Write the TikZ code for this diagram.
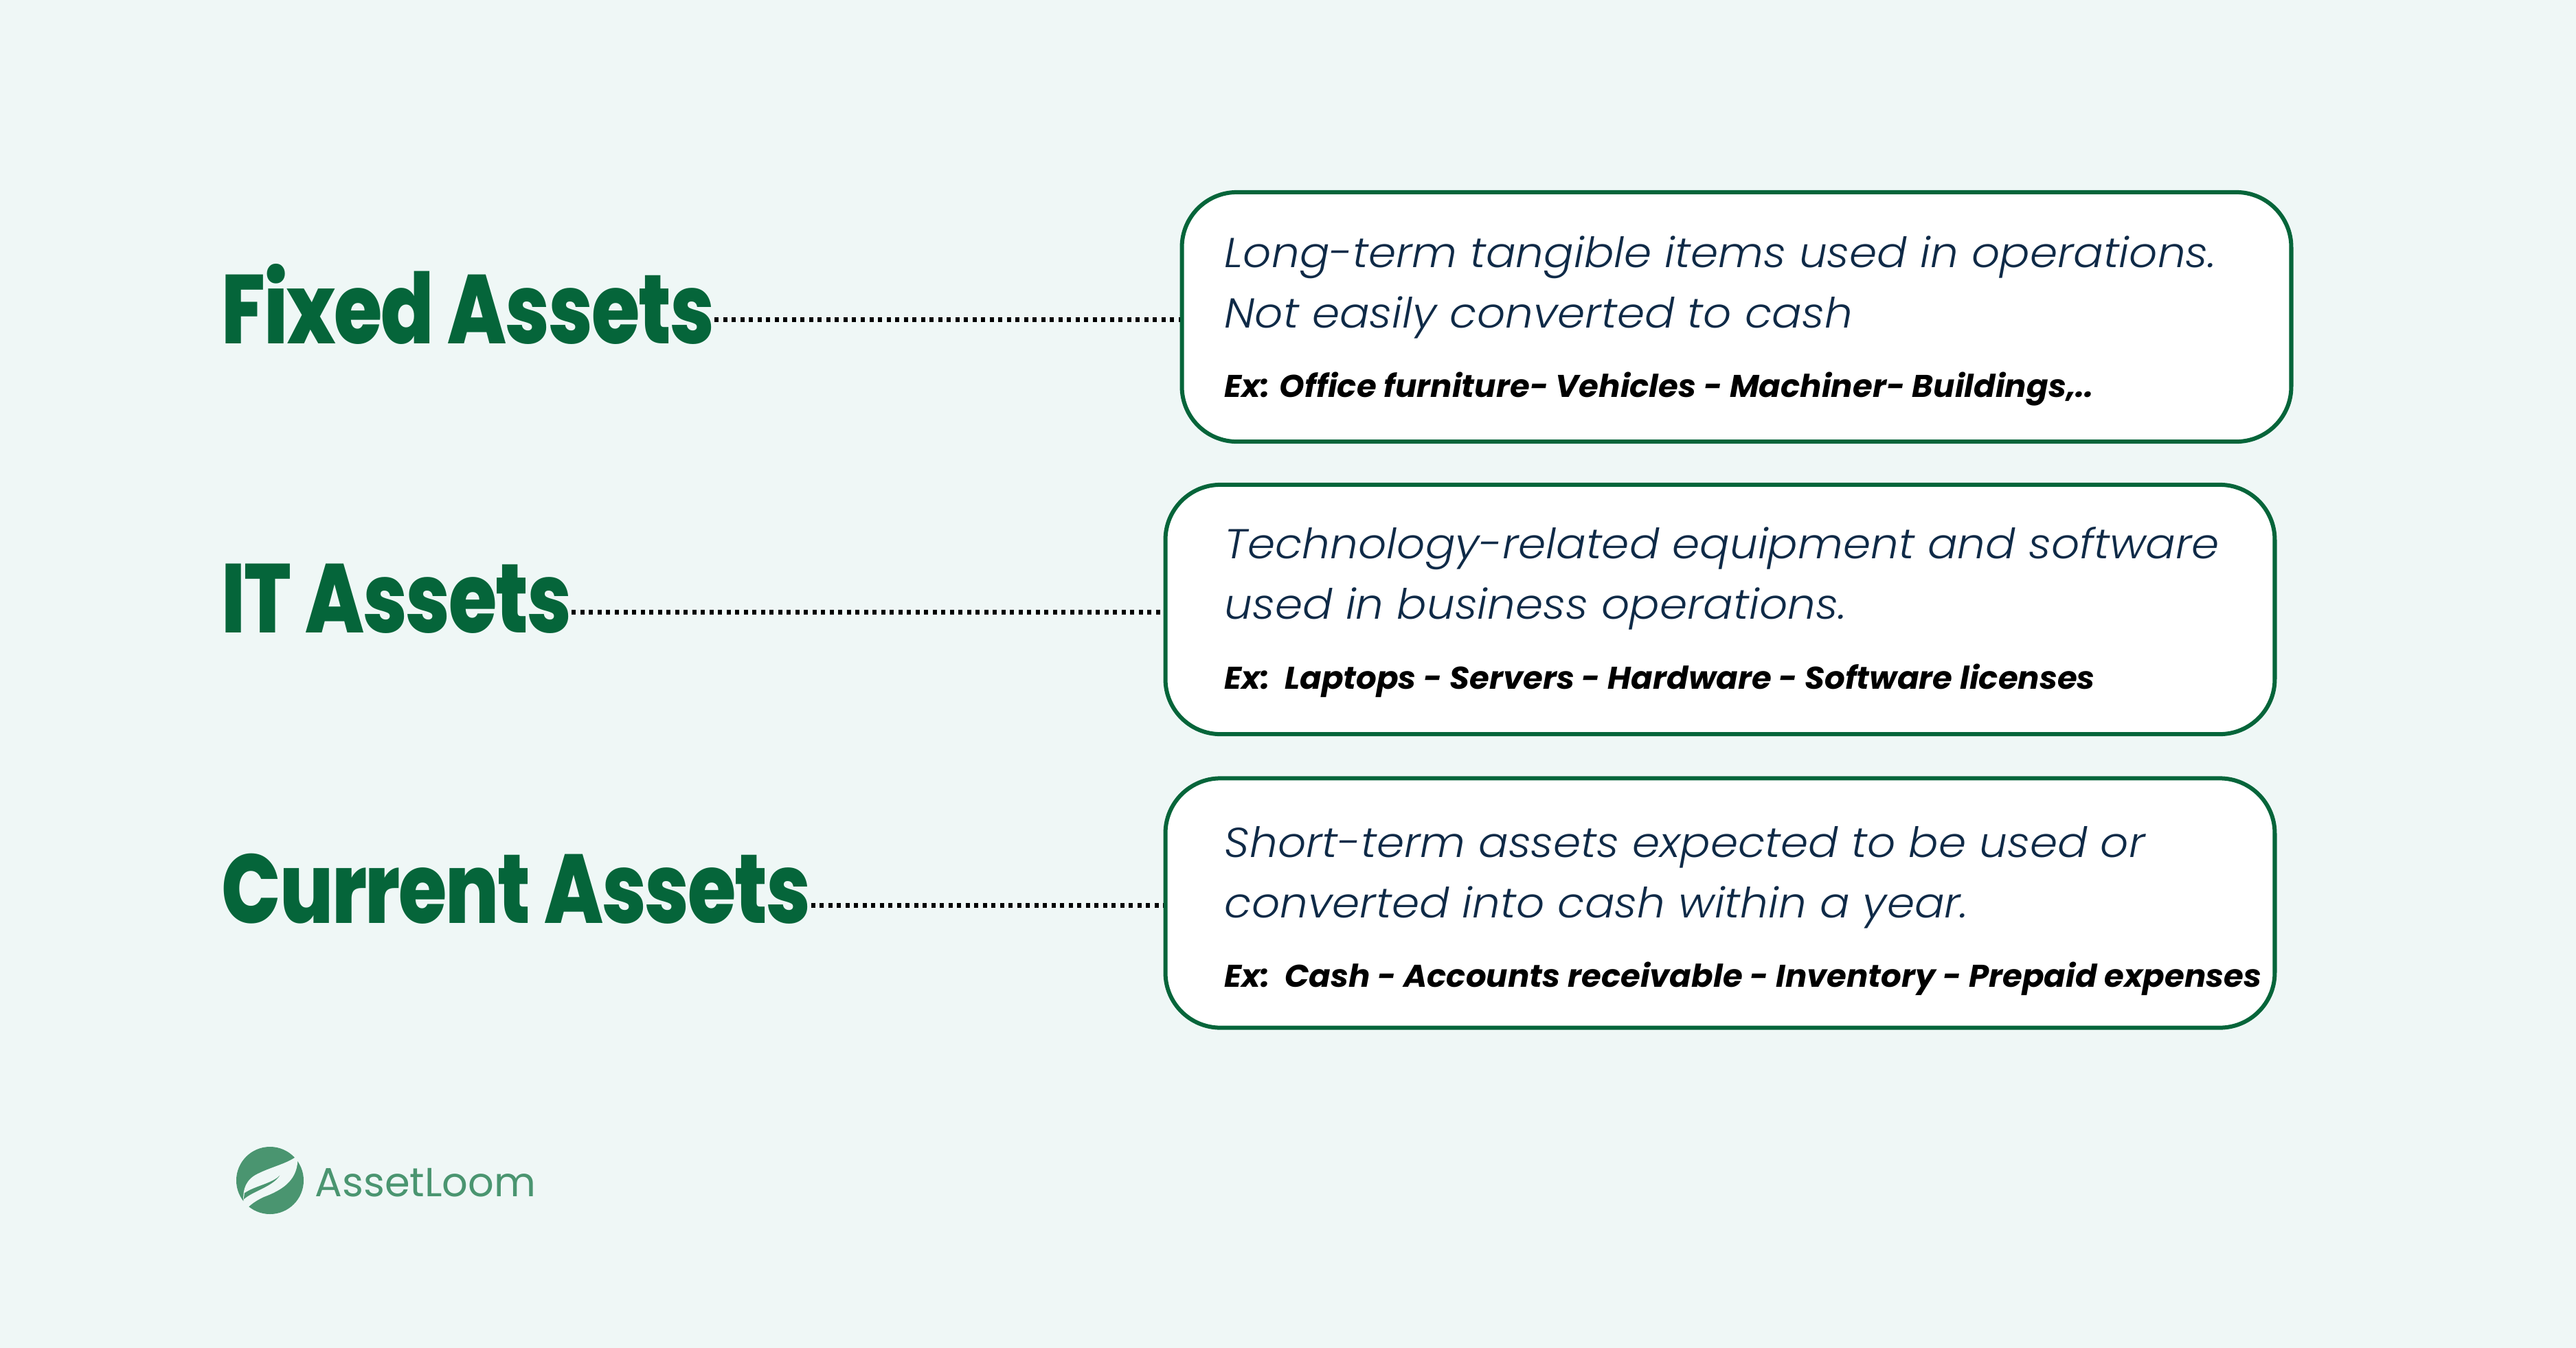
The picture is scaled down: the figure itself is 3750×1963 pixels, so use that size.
\documentclass[tikz,border=0pt]{standalone}
\usepackage{fontspec}
\usepackage{tikz}
\usetikzlibrary{positioning}

\newfontfamily\titlefont{Poppins ExtraBold}[FakeStretch=0.80,LetterSpace=-1.5]
\newfontfamily\bodyfont{Poppins Light}[FakeStretch=1.06,ItalicFont={Poppins Light Italic}]
\newfontfamily\exfont{Poppins}[FakeStretch=1.02]
\newfontfamily\logofont{Poppins}

\definecolor{pagebg}{HTML}{EFF7F6}
\definecolor{assetgreen}{HTML}{05653A}
\definecolor{logogreen}{HTML}{4A9570}
\definecolor{bodyblue}{HTML}{0F2A47}

\tikzset{
    assettitle/.style={anchor=base west, inner sep=0pt, text=assetgreen,
        font=\titlefont\fontsize{40.5}{48}\selectfont},
    assetbox/.style={draw=assetgreen, fill=white, line width=0.06cm, rounded corners=0.8cm,
        minimum width=16.14cm, minimum height=3.63cm, inner sep=0pt},
    bodyline/.style={anchor=base west, inner sep=0pt, text=bodyblue,
        font=\bodyfont\itshape\fontsize{17.3}{20}\selectfont},
    exline/.style={anchor=base west, inner sep=0pt, text=black,
        font=\exfont\bfseries\itshape\fontsize{13}{15}\selectfont},
    dotline/.style={line width=0.07cm, dash pattern=on 0.06cm off 0.065cm, black,
        transform canvas={yshift=-0.035cm}},
}

\begin{document}
\begin{tikzpicture}[x=0.01cm, y=-0.01cm]
    \fill[pagebg] (0,0) rectangle (3750,1963);
    \useasboundingbox (0,0) rectangle (3750,1963);

    % left titles
    \node[assettitle] (fixedtitle) at (322,500) {Fixed Assets};
    \node[assettitle] (ittitle) at (322,921) {IT Assets};
    \node[assettitle] (currenttitle) at (322,1344) {Current Assets};

    % boxes
    \node[assetbox] (fixedbox) at (2528,461.5) {};
    \node[assetbox] (itbox) at (2504,887.5) {};
    \node[assetbox] (currentbox) at (2504,1315) {};

    % box texts
    \node[bodyline] (fixedone) at (1782,389) {Long-term tangible items used in operations.};
    \node[bodyline] (fixedtwo) at (1782,477) {Not easily converted to cash};
    \node[exline] (fixedex) at (1782,578) {Ex: Office furniture- Vehicles - Machiner- Buildings,..};

    \node[bodyline] (itone) at (1782,813) {Technology-related equipment and software};
    \node[bodyline] (ittwo) at (1782,901) {used in business operations.};
    \node[exline] (itex) at (1782,1003) {Ex:\ \ Laptops - Servers - Hardware - Software licenses};

    \node[bodyline] (currentone) at (1782,1248) {Short-term assets expected to be used or};
    \node[bodyline] (currenttwo) at (1782,1336) {converted into cash within a year.};
    \node[exline] (currentex) at (1782,1437) {Ex:\ \ Cash - Accounts receivable - Inventory - Prepaid expenses};

    % dotted connectors
    \draw[dotline] (fixedtitle.east |- fixedbox.west) -- (fixedbox.west);
    \draw[dotline] (ittitle.east |- itbox.west) -- (itbox.west);
    \draw[dotline] (currenttitle.east |- currentbox.west) -- (currentbox.west);

    % logo
    \fill[logogreen] (393,1719) circle (49);
    \begin{scope}[shift={(300,1620)}, x=0.01cm/3, y=-0.01cm/3]
        \fill[pagebg] (405,182) .. controls (370,220) and (290,235) .. (225,268)
            .. controls (175,292) and (160,335) .. (163,382)
            -- (160,448) .. controls (175,415) and (205,392) .. (250,370)
            .. controls (330,340) and (395,300) .. (400,212) -- cycle;
        \fill[logogreen] (322,275) .. controls (290,310) and (215,320) .. (168,352)
            -- (164,380) .. controls (200,345) and (290,325) .. (322,275) -- cycle;
    \end{scope}
    \node[anchor=base west, inner sep=0pt, text=logogreen, font=\logofont\fontsize{16.8}{20}\selectfont] (logotext) at (458,1742) {AssetLoom};
\end{tikzpicture}
\end{document}
